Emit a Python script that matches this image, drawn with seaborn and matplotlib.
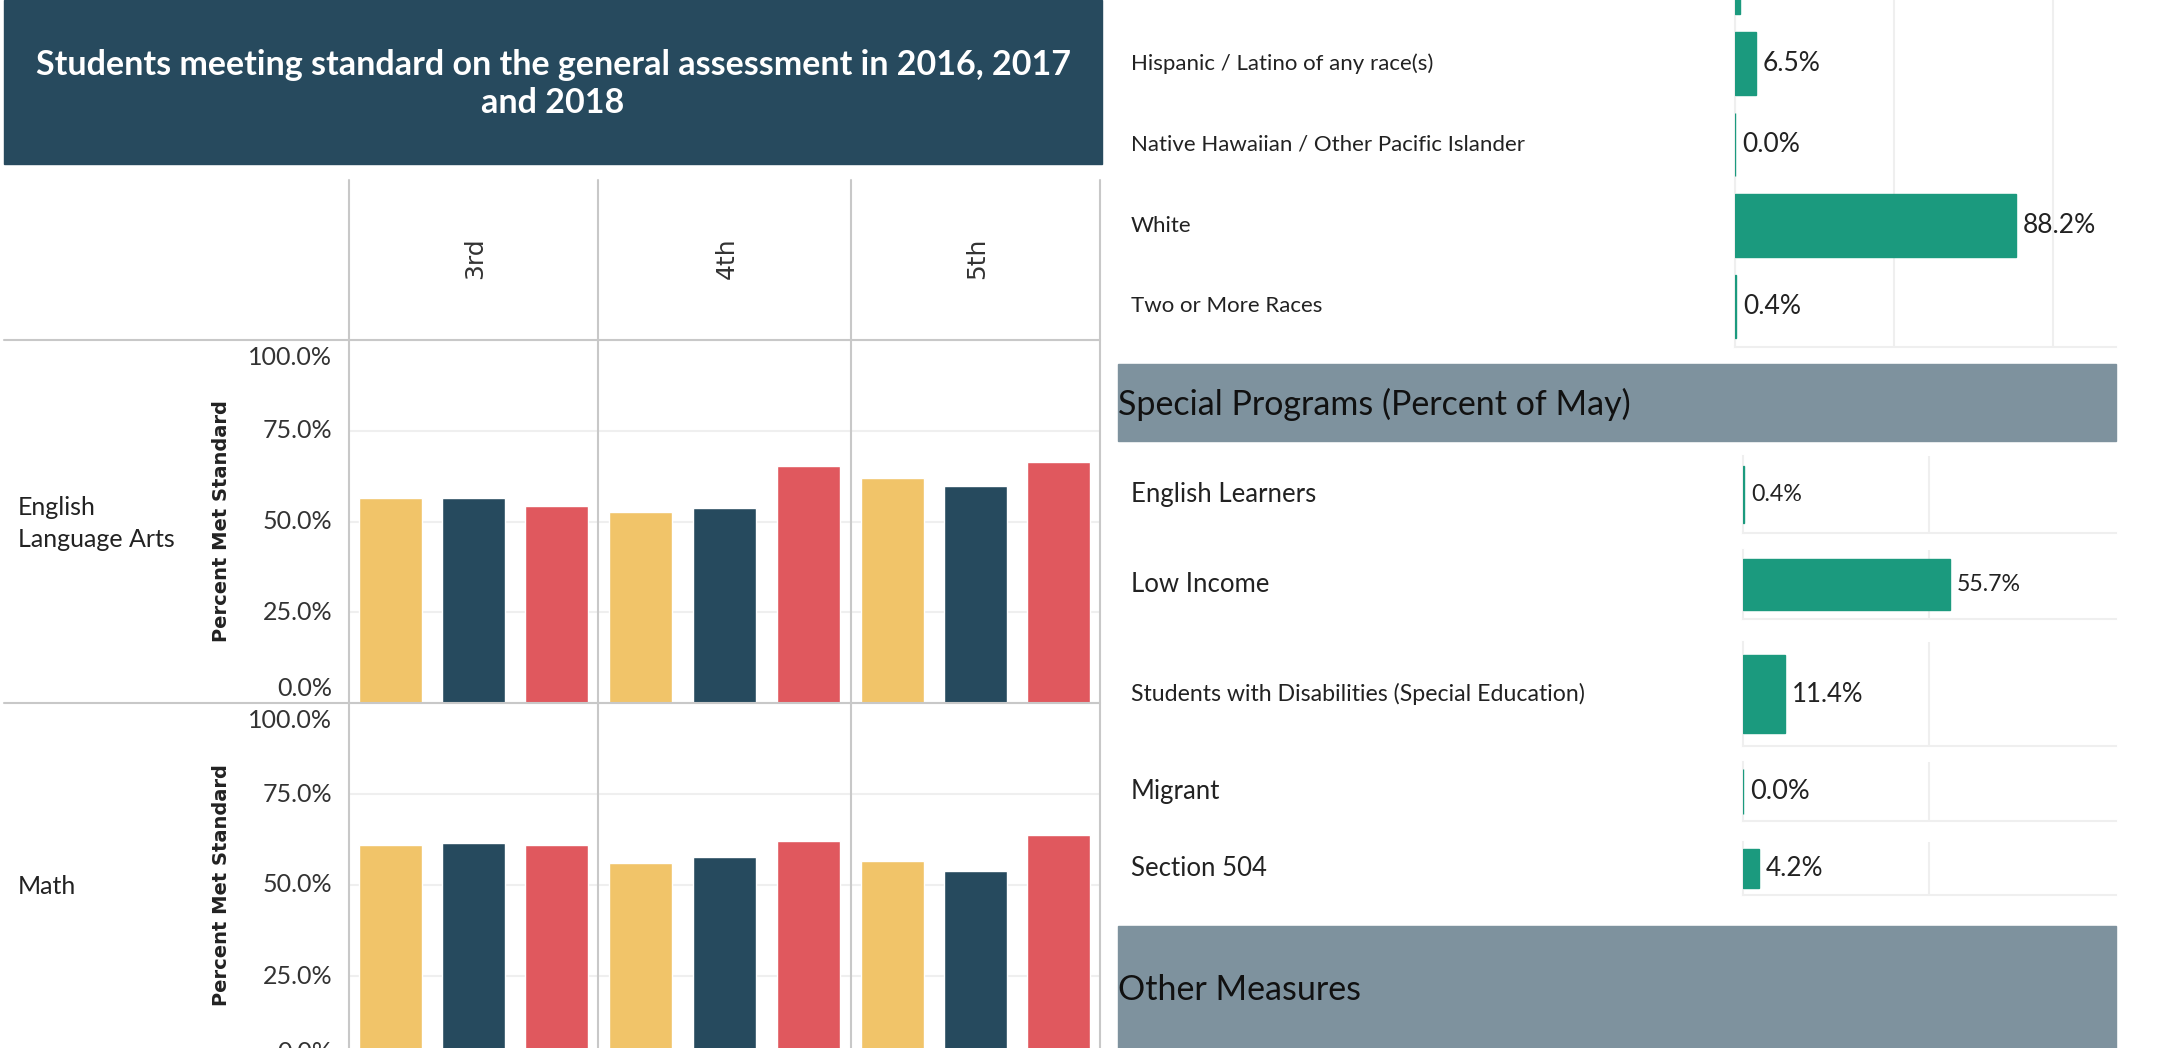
import numpy as np
import pandas as pd
import matplotlib
matplotlib.use('Agg')
from matplotlib import pyplot as plt
from matplotlib.lines import Line2D
from matplotlib.patches import Rectangle
from matplotlib.transforms import blended_transform_factory
import seaborn as sns

sns.set_style('white')
plt.rcParams['font.family'] = ['Lato', 'DejaVu Sans']

# ---- data ----
grades = ['3rd', '4th', '5th']
years = ['2016', '2017', '2018']
subjects = ['English\nLanguage Arts', 'Math']
ela_pct = [[56.4, 56.4, 54.2], [52.6, 53.7, 65.3], [61.9, 59.7, 66.4]]
math_pct = [[61.0, 61.5, 61.0], [56.0, 57.6, 62.1], [56.5, 53.8, 63.7]]
year_colors = ['#F1C469', '#264A5E', '#E0585E']
pct_ticks = [0, 25, 50, 75, 100]
pct_tick_labels = ['0.0%', '25.0%', '50.0%', '75.0%', '100.0%']

race_groups = ['Black / African American', 'Hispanic / Latino of any race(s)',
               'Native Hawaiian / Other Pacific Islander', 'White', 'Two or More Races']
race_pct = [1.6, 6.5, 0.0, 88.2, 0.4]

program_groups = ['English Learners', 'Low Income',
                  'Students with Disabilities (Special Education)', 'Migrant', 'Section 504']
program_pct = [0.4, 55.7, 11.4, 0.0, 4.2]

teal = '#1B9A7E'
border = '#C8C8C8'
grid = '#EFEFEF'
W, H = 2162, 1048

fig = plt.figure(figsize=(W / 100, H / 100), dpi=100)


def px_axes(left, top, right, bottom):
    return fig.add_axes([left / W, 1 - bottom / H, (right - left) / W, (bottom - top) / H])


def fig_line(x0, y0, x1, y1, color=border, lw=1.5):
    fig.add_artist(Line2D([x0 / W, x1 / W], [1 - y0 / H, 1 - y1 / H],
                          transform=fig.transFigure, color=color, lw=lw, zorder=10))


def fig_box(left, top, right, bottom, color):
    fig.add_artist(Rectangle((left / W, 1 - bottom / H), (right - left) / W, (bottom - top) / H,
                             transform=fig.transFigure, color=color, zorder=0))


def clean(ax):
    ax.set_xlabel('')
    ax.set_ylabel('')
    ax.tick_params(length=0)
    ax.set_axisbelow(True)


# ---- left: title + bar grid ----
fig_box(4, 0, 1102, 164, '#274A5E')
fig.text(553 / W, 1 - 84 / H, 'Students meeting standard on the general assessment in 2016, 2017\nand 2018',
         ha='center', va='center', color='white', fontsize=24.5, fontweight='bold', linespacing=1.25)

col_x = [349, 598, 851, 1100]
row_y = [(340, 703), (703, 1067)]
# tableau nudges the end labels inside the pane
tick_label_y = [4.1, 25, 50, 75, 95.3]

for r, (subj, data) in enumerate(zip(subjects, [ela_pct, math_pct])):
    top, bottom = row_y[r]
    for c, grade in enumerate(grades):
        ax = px_axes(col_x[c], top, col_x[c + 1], bottom)
        frame = pd.DataFrame({'year': years, 'pct': data[c]})
        sns.barplot(data=frame, x='year', y='pct', hue='year', palette=year_colors,
                    saturation=1, width=0.75, legend=False, ax=ax, zorder=3)
        ax.set_xlim(-0.5, 2.5)
        ax.set_ylim(0, 100)
        ax.set_yticks(pct_ticks)
        ax.set_yticklabels([])
        ax.yaxis.grid(True, color=grid, lw=1.5, zorder=0)
        ax.set_xticks([])
        clean(ax)
        for s in ax.spines.values():
            s.set_visible(False)
        if c == 0:
            tr = blended_transform_factory(ax.transAxes, ax.transData)
            for yv, lab in zip(tick_label_y, pct_tick_labels):
                ax.text(-17 / 249, yv, lab, transform=tr, ha='right', va='center',
                        fontsize=18, color='#333333', clip_on=False)
            ax.set_ylabel('Percent Met Standard', fontsize=14, fontweight='bold',
                          family=['DejaVu Sans'], color='#222222')
            ax.yaxis.set_label_coords((231 - 349) / 249, 0.5)
    fig.text(18 / W, 1 - ((top + bottom) / 2 + 2) / H, subj, ha='left', va='center',
             fontsize=18, color='#222222', linespacing=1.45)

for c, grade in enumerate(grades):
    fig.text((col_x[c] + col_x[c + 1]) / 2 / W + 2 / W, 1 - 258 / H, grade, rotation=90,
             ha='center', va='center', fontsize=18, family=['DejaVu Sans'], color='#333333')

for x in col_x:
    fig_line(x, 180, x, H)
fig_line(4, 340, 1100, 340)
fig_line(4, 703, 1100, 703)

# ---- right: race breakdown ----
ax = px_axes(1735, -58, 2116, 347)
sns.barplot(x=race_pct, y=race_groups, orient='h', color=teal, saturation=1, width=0.77,
            linewidth=1, edgecolor=teal, ax=ax, zorder=3)
ax.set_xlim(0, 119.8)
ax.set_ylim(4.5, -0.5)
ax.set_xticks([0, 50, 100])
ax.xaxis.grid(True, color=grid, lw=1.5, zorder=0)
ax.set_xticklabels([])
ax.set_yticklabels([])
clean(ax)
for side in ['top', 'right']:
    ax.spines[side].set_visible(False)
for side in ['left', 'bottom']:
    ax.spines[side].set_color(grid)
    ax.spines[side].set_linewidth(1.5)
tr = blended_transform_factory(fig.transFigure, ax.transData)
for i, (g, v) in enumerate(zip(race_groups, race_pct)):
    if i == 0:
        continue  # row sits above the visible area
    ax.text(1131 / W, i, g, transform=tr, ha='left', va='center', fontsize=16, color='#222222')
    ax.annotate(f'{v:.1f}%', (v, i), xytext=(5, 0), textcoords='offset points',
                ha='left', va='center', fontsize=19, color='#222222')

# ---- right: special programs ----
fig_box(1118, 364, 2116, 441, '#7E929E')
fig.text(1118 / W, 1 - 404 / H, 'Special Programs (Percent of May)', ha='left', va='center',
         fontsize=24.5, color='#111111')

prog_rows = [(456, 533), (550, 619), (642, 746), (762, 821), (842, 895)]
prog_label_size = [18.5, 18.5, 16.7, 18.5, 18.5]
prog_value_size = [16.7, 16.7, 18.5, 19.5, 18.8]
for g, v, (top, bottom), ls, vs in zip(program_groups, program_pct, prog_rows,
                                       prog_label_size, prog_value_size):
    ax = px_axes(1743, top, 2116, bottom)
    sns.barplot(x=[v], y=[g], orient='h', color=teal, saturation=1, width=0.75,
                linewidth=1, edgecolor=teal, ax=ax, zorder=3)
    ax.set_xlim(0, 100.5)
    ax.set_xticks([50])
    ax.xaxis.grid(True, color=grid, lw=1.5, zorder=0)
    ax.set_xticklabels([])
    ax.set_yticklabels([])
    clean(ax)
    for side in ['top', 'right']:
        ax.spines[side].set_visible(False)
    for side in ['left', 'bottom']:
        ax.spines[side].set_color(grid)
        ax.spines[side].set_linewidth(1.5)
    fig.text(1131 / W, 1 - (top + bottom) / 2 / H, g, ha='left', va='center',
             fontsize=ls, color='#222222')
    ax.annotate(f'{v:.1f}%', (v, 0), xytext=(5, 0), textcoords='offset points',
                ha='left', va='center', fontsize=vs, color='#222222')

fig_box(1118, 926, 2116, H + 10, '#7E929E')
fig.text(1118 / W, 1 - 990 / H, 'Other Measures', ha='left', va='center',
         fontsize=24.5, color='#111111')

fig.savefig('out.png', dpi=100)
